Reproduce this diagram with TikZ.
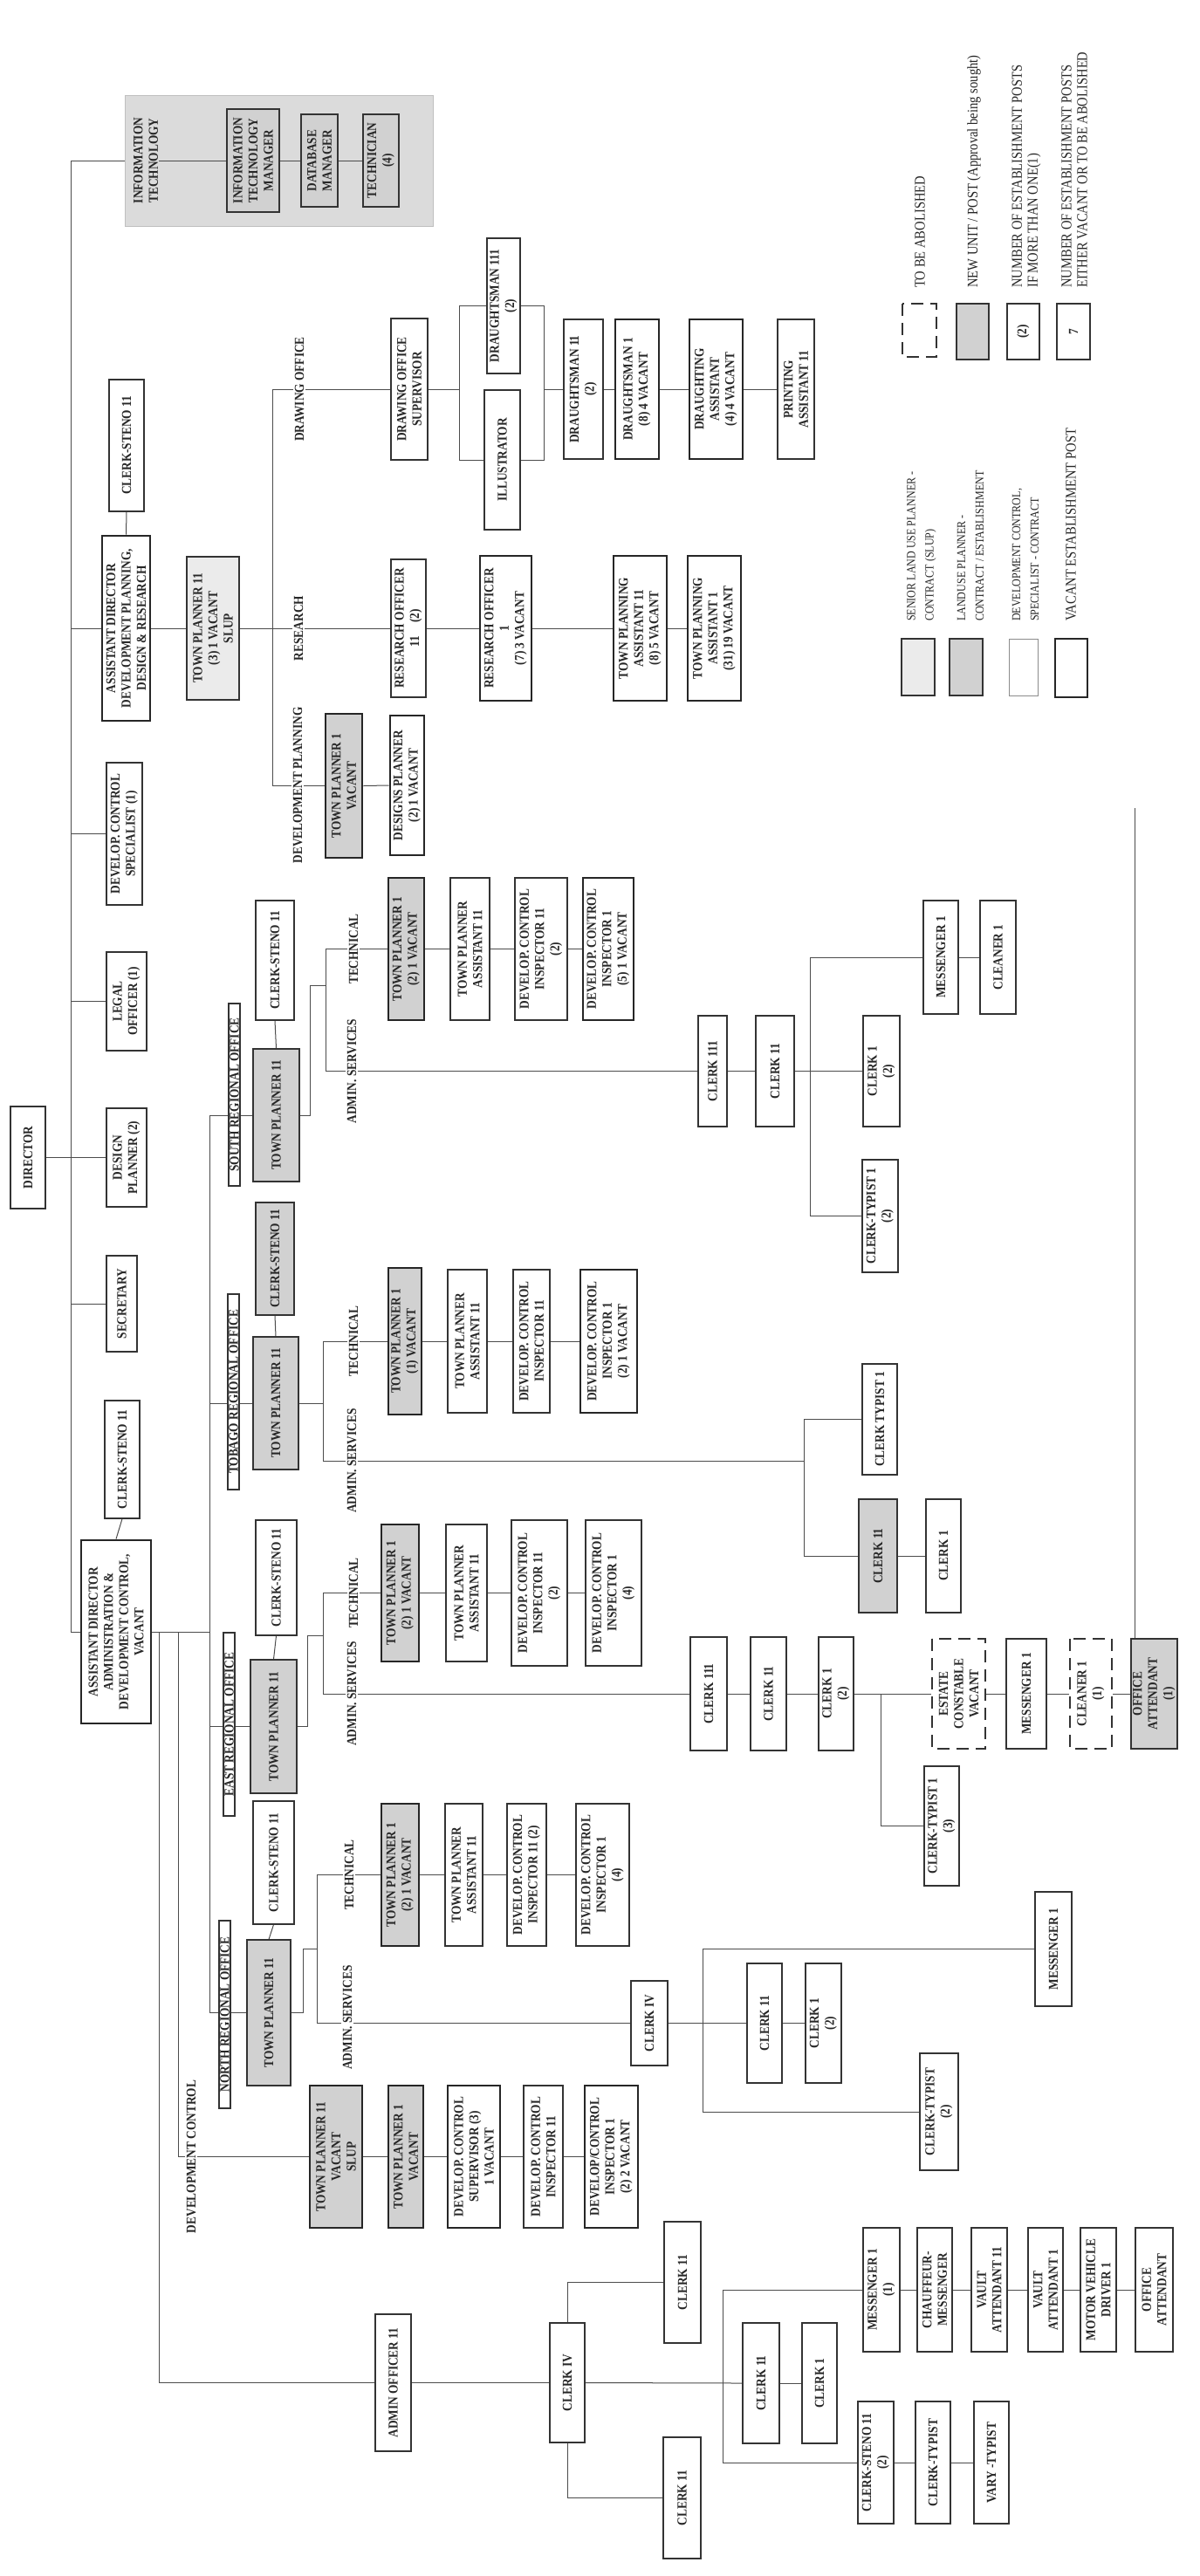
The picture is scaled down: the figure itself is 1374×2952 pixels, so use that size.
\documentclass[tikz,border=0pt]{standalone}
\usepackage{fontspec}
\setmainfont{Liberation Serif}[FakeStretch=0.86]
\usetikzlibrary{calc}
\pgfdeclarelayer{bg}
\pgfsetlayers{bg,main}
\newcommand\bxf{\fontsize{15.5}{17.5}\selectfont\bfseries}
\newcommand\lgf{\fontsize{17}{18}\selectfont}
\newcommand\lgs{\fontsize{14}{21}\selectfont}
\newcommand\orgbox[7][]{\node[box,#1,minimum width={#6-#5},minimum height={#4-#3}] (#2) at ({(#3+#4)/2},{-(#5+#6)/2}) {#7};}
\begin{document}
\begin{tikzpicture}[x=1pt,y=1pt,
  box/.style={draw=black!80,line width=1.1pt,fill=white,rotate=90,align=center,inner sep=0.5pt,font=\bxf,text=black!85},
  vac/.style={line width=2.8pt,draw=black!85},
  shd/.style={fill=black!18},
  lshd/.style={fill=black!8},
  abol/.style={line width=2.8pt,dash pattern=on 14pt off 8pt},
  lab/.style={rotate=90,fill=white,inner sep=1.5pt,font=\bxf,text=black!85},
  ofc/.style={draw=black!80,line width=1.5pt,fill=white,rotate=90,inner sep=1.5pt,font=\bxf,text=black!85},
  lgt/.style={rotate=90,anchor=west,align=left,inner sep=0pt,font=\lgf,text=black!85},
  lgl/.style={rotate=90,anchor=west,align=left,inner sep=0pt,font=\lgs,text=black!85},
  ln/.style={draw=black!70,line width=1pt}]
\useasboundingbox (0,0) rectangle (1374,-2952);
% ---------- information technology
\node[rotate=90,align=center,font=\bxf,inner sep=1pt,text=black!85] (itlab) at (167,-184) {INFORMATION\\TECHNOLOGY};
\orgbox[shd]{itm}{260}{320}{125}{243}{INFORMATION\\TECHNOLOGY\\MANAGER}
\orgbox[shd]{dbm}{345}{387}{131}{237}{DATABASE\\MANAGER}
\orgbox[shd]{tech}{416}{457}{131}{237}{TECHNICIAN\\(4)}
% ---------- top level
\orgbox{cs1}{125}{165}{435}{586}{CLERK-STENO 11}
\orgbox[vac]{addp}{117}{172}{614}{826}{ASSISTANT DIRECTOR\\DEVELOPMENT PLANNING,\\DESIGN \& RESEARCH}
\orgbox[lshd]{tp11s}{214}{274}{638}{802}{TOWN PLANNER 11\\(3) 1 VACANT\\SLUP}
\orgbox{dcs}{122}{163}{874}{1037}{DEVELOP. CONTROL\\SPECIALIST (1)}
\orgbox{legal}{122}{168}{1091}{1204}{LEGAL\\OFFICER (1)}
\orgbox{dsgn}{122}{168}{1270}{1383}{DESIGN\\PLANNER (2)}
\orgbox{dir}{12}{52}{1268}{1385}{DIRECTOR}
\orgbox{sec}{122}{157}{1439}{1549}{SECRETARY}
\orgbox{cs2}{120}{160}{1605}{1740}{CLERK-STENO 11}
\orgbox[vac]{adac}{93}{173}{1765}{1975}{ASSISTANT DIRECTOR\\ADMINISTRATION \&\\DEVELOPMENT CONTROL,\\VACANT}
% ---------- drawing office
\orgbox{dos}{448}{490}{365}{527}{DRAWING OFFICE\\SUPERVISOR}
\orgbox{d111}{558}{596}{273}{428}{DRAUGHTSMAN 111\\(2)}
\orgbox{ill}{555}{596}{447}{607}{ILLUSTRATOR}
\orgbox{d11}{646}{691}{366}{526}{DRAUGHTSMAN 11\\(2)}
\orgbox[vac]{d1}{705}{755}{366}{526}{DRAUGHTSMAN 1\\(8) 4 VACANT}
\orgbox[vac]{da}{790}{851}{366}{526}{DRAUGHTING\\ASSISTANT\\(4) 4 VACANT}
\orgbox{pa}{891}{933}{366}{526}{PRINTING\\ASSISTANT 11}
% ---------- research
\orgbox{ro11}{448}{488}{641}{799}{RESEARCH OFFICER\\11\quad(2)}
\orgbox[vac]{ro1}{550}{609}{637}{803}{RESEARCH OFFICER\\1\\(7) 3 VACANT}
\orgbox[vac]{tpa11}{703}{764}{637}{803}{TOWN PLANNING\\ASSISTANT 11\\(8) 5 VACANT}
\orgbox[vac]{tpa1}{788}{849}{637}{803}{TOWN PLANNING\\ASSISTANT 1\\(31) 19 VACANT}
% ---------- development planning
\orgbox[vac,shd]{tp1dp}{373}{415}{818}{983}{TOWN PLANNER 1\\VACANT}
\orgbox[vac]{dsp}{447}{486}{820}{980}{DESIGNS PLANNER\\(2) 1 VACANT}
% ---------- south
\node[ofc,minimum width=209pt] (srolab) at (268.5,-1254.5) {SOUTH REGIONAL OFFICE};
\orgbox[shd]{tp11S}{290}{343}{1202}{1354}{TOWN PLANNER 11}
\orgbox{csS}{293}{337}{1032}{1169}{CLERK-STENO 11}
\orgbox[vac,shd]{tp1S}{445}{486}{1006}{1169}{TOWN PLANNER 1\\(2) 1 VACANT}
\orgbox{tpaS}{516}{561}{1006}{1169}{TOWN PLANNER\\ASSISTANT 11}
\orgbox{dci11S}{590}{650}{1006}{1169}{DEVELOP. CONTROL\\INSPECTOR 11\\(2)}
\orgbox[vac]{dci1S}{668}{726}{1006}{1169}{DEVELOP. CONTROL\\INSPECTOR 1\\(5) 1 VACANT}
\orgbox{c3S}{800}{833}{1164}{1291}{CLERK 111}
\orgbox{c2S}{866}{910}{1164}{1291}{CLERK 11}
\orgbox{c1S}{989}{1031}{1164}{1291}{CLERK 1\\(2)}
\orgbox{ctS}{988}{1029}{1329}{1458}{CLERK-TYPIST 1\\(2)}
\orgbox{msS}{1058}{1098}{1032}{1162}{MESSENGER 1}
\orgbox{clS}{1123}{1164}{1032}{1162}{CLEANER 1}
% ---------- tobago
\node[ofc,minimum width=224pt] (trolab) at (267.5,-1595) {TOBAGO REGIONAL OFFICE};
\orgbox[shd]{tp11T}{290}{342}{1532}{1684}{TOWN PLANNER 11}
\orgbox[shd]{csT}{293}{337}{1378}{1507}{CLERK-STENO 11}
\orgbox[vac,shd]{tp1T}{445}{483}{1453}{1621}{TOWN PLANNER 1\\(1) VACANT}
\orgbox{tpaT}{513}{558}{1455}{1619}{TOWN PLANNER\\ASSISTANT 11}
\orgbox{dci11T}{588}{630}{1455}{1619}{DEVELOP. CONTROL\\INSPECTOR 11}
\orgbox[vac]{dci1T}{665}{730}{1455}{1619}{DEVELOP. CONTROL\\INSPECTOR 1\\(2) 1 VACANT}
\orgbox{ctT}{988}{1028}{1563}{1690}{CLERK TYPIST 1}
\orgbox[shd]{c2T}{984}{1028}{1718}{1848}{CLERK 11}
\orgbox{c1T}{1061}{1101}{1718}{1848}{CLERK 1}
% ---------- east
\node[ofc,minimum width=210pt] (erolab) at (262.5,-1976) {EAST REGIONAL OFFICE};
\orgbox[shd]{tp11E}{287}{340}{1902}{2055}{TOWN PLANNER 11}
\orgbox{csE}{293}{340}{1742}{1874}{CLERK-STENO 11}
\orgbox[vac,shd]{tp1E}{437}{480}{1747}{1904}{TOWN PLANNER 1\\(2) 1 VACANT}
\orgbox{tpaE}{511}{558}{1747}{1904}{TOWN PLANNER\\ASSISTANT 11}
\orgbox{dci11E}{586}{650}{1742}{1909}{DEVELOP. CONTROL\\INSPECTOR 11\\(2)}
\orgbox{dci1E}{671}{735}{1742}{1909}{DEVELOP. CONTROL\\INSPECTOR 1\\(4)}
\orgbox{c3E}{791}{833}{1876}{2006}{CLERK 111}
\orgbox{c2E}{860}{901}{1876}{2006}{CLERK 11}
\orgbox{c1E}{938}{978}{1876}{2006}{CLERK 1\\(2)}
\orgbox{ctE}{1059}{1099}{2024}{2161}{CLERK-TYPIST 1\\(3)}
\orgbox[abol]{ecE}{1068}{1129}{1878}{2004}{ESTATE\\CONSTABLE\\VACANT}
\orgbox{msE}{1153}{1199}{1878}{2004}{MESSENGER 1}
\orgbox[abol]{clE}{1226}{1274}{1878}{2004}{CLEANER 1\\(1)}
\orgbox[shd]{oaE}{1296}{1349}{1878}{2004}{OFFICE\\ATTENDANT\\(1)}
% ---------- north
\node[ofc,minimum width=215pt] (nrolab) at (257.5,-2308.5) {NORTH REGIONAL OFFICE};
\orgbox[shd]{tp11N}{283}{333}{2223}{2390}{TOWN PLANNER 11}
\orgbox{csN}{290}{337}{2064}{2205}{CLERK-STENO 11}
\orgbox[vac,shd]{tp1N}{437}{480}{2067}{2230}{TOWN PLANNER 1\\(2) 1 VACANT}
\orgbox{tpaN}{510}{553}{2067}{2230}{TOWN PLANNER\\ASSISTANT 11}
\orgbox{dci11N}{581}{626}{2067}{2230}{DEVELOP. CONTROL\\INSPECTOR 11 (2)}
\orgbox{dci1N}{660}{721}{2067}{2230}{DEVELOP. CONTROL\\INSPECTOR 1\\(4)}
\orgbox{c4N}{723}{765}{2270}{2367}{CLERK IV}
\orgbox{c2N}{856}{896}{2250}{2387}{CLERK 11}
\orgbox{c1N}{923}{964}{2250}{2387}{CLERK 1\\(2)}
\orgbox{msN}{1186}{1228}{2168}{2299}{MESSENGER 1}
\orgbox{ctN}{1054}{1098}{2353}{2487}{CLERK-TYPIST\\(2)}
% ---------- development control
\orgbox[vac,shd]{tp11D}{355}{415}{2390}{2553}{TOWN PLANNER 11\\VACANT\\SLUP}
\orgbox[vac,shd]{tp1D}{445}{485}{2390}{2553}{TOWN PLANNER 1\\VACANT}
\orgbox[vac]{dcsup}{513}{573}{2390}{2553}{DEVELOP. CONTROL\\SUPERVISOR (3)\\1 VACANT}
\orgbox{dci11D}{600}{645}{2390}{2553}{DEVELOP. CONTROL\\INSPECTOR 11}
\orgbox[vac]{dci1D}{670}{731}{2390}{2553}{DEVELOP/CONTROL\\INSPECTOR 1\\(2) 2 VACANT}
% ---------- administration
\orgbox{ao}{430}{471}{2652}{2809}{ADMIN OFFICER 11}
\orgbox{c4A}{630}{670}{2662}{2799}{CLERK IV}
\orgbox{c2Aa}{761}{803}{2546}{2685}{CLERK 11}
\orgbox{c2Ab}{760}{803}{2793}{2932}{CLERK 11}
\orgbox{c2Ac}{851}{893}{2662}{2800}{CLERK 11}
\orgbox{c1A}{919}{959}{2662}{2800}{CLERK 1}
\orgbox{msA}{989}{1031}{2553}{2695}{MESSENGER 1\\(1)}
\orgbox{chA}{1051}{1091}{2553}{2695}{CHAUFFEUR-\\MESSENGER}
\orgbox{vaB}{1113}{1154}{2553}{2695}{VAULT\\ATTENDANT 11}
\orgbox{vaA}{1178}{1218}{2553}{2695}{VAULT\\ATTENDANT 1}
\orgbox{mvd}{1238}{1279}{2553}{2695}{MOTOR VEHICLE\\DRIVER 1}
\orgbox{oaA}{1301}{1344}{2553}{2695}{OFFICE\\ATTENDANT}
\orgbox{csA}{983}{1024}{2752}{2892}{CLERK-STENO 11\\(2)}
\orgbox{ctA}{1049}{1089}{2752}{2892}{CLERK-TYPIST}
\orgbox{vtA}{1116}{1156}{2752}{2892}{VARY -TYPIST}
% ---------- branch labels
\node[lab] (dolab) at (343,-446) {DRAWING OFFICE};
\node[lab] (rslab) at (342,-720) {RESEARCH};
\node[lab] (dplab) at (341,-900) {DEVELOPMENT PLANNING};
\node[lab] (techS) at (405,-1087.5) {TECHNICAL};
\node[lab] (admS) at (403,-1227.5) {ADMIN. SERVICES};
\node[lab] (techT) at (405,-1537) {TECHNICAL};
\node[lab] (admT) at (403,-1674) {ADMIN. SERVICES};
\node[lab] (techE) at (405,-1825.5) {TECHNICAL};
\node[lab] (admE) at (403,-1941) {ADMIN. SERVICES};
\node[lab] (techN) at (400,-2148.5) {TECHNICAL};
\node[lab] (admN) at (398,-2312) {ADMIN. SERVICES};
\node[lab] (dclab) at (219,-2471.5) {DEVELOPMENT CONTROL};
% ---------- legend
\orgbox[abol]{lg1}{1034}{1073}{348}{409}{}
\orgbox[shd]{lg2}{1096}{1133}{348}{412}{}
\orgbox{lg3}{1154}{1191}{348}{412}{(2)}
\orgbox{lg4}{1211}{1249}{348}{412}{7}
\node[lgt] (lt1) at (1054,-330) {TO BE ABOLISHED};
\node[lgt] (lt2) at (1116,-330) {NEW UNIT / POST (Approval being sought)};
\node[lgt] (lt3) at (1176,-330) {NUMBER OF ESTABLISHMENT POSTS\\IF MORE THAN ONE(1)};
\node[lgt] (lt4) at (1231,-330) {NUMBER OF ESTABLISHMENT POSTS\\EITHER VACANT OR TO BE ABOLISHED};
\orgbox[lshd]{ls1}{1033}{1071}{732}{797}{}
\orgbox[shd]{ls2}{1088}{1126}{732}{797}{}
\orgbox[draw=black!45,line width=0.8pt]{ls3}{1156}{1189}{732}{797}{}
\orgbox[vac]{ls4}{1209}{1246}{732}{799}{}
\node[lgl] (lx1) at (1056,-712) {SENIOR LAND USE PLANNER -\\CONTRACT (SLUP)};
\node[lgl] (lx2) at (1112,-712) {LANDUSE PLANNER -\\CONTRACT / ESTABLISHMENT};
\node[lgl] (lx3) at (1175,-712) {DEVELOPMENT CONTROL,\\SPECIALIST - CONTRACT};
\node[lgt] (lx4) at (1227,-712) {VACANT ESTABLISHMENT POST};
% ---------- connectors
\begin{pgfonlayer}{bg}
\fill[white] (0,0) rectangle (1374,-2952);
\node[draw=black!25,fill=black!14,minimum width=353pt,minimum height=150pt,inner sep=0pt] (itreg) at (319.5,-184) {};
\coordinate (mb) at (81,0);
\coordinate (rb) at (240,0);
\coordinate (dcv) at (204,0);
\coordinate (aov) at (182,0);
\draw[ln] (itreg.west) -| (adac.north -| mb) -- (adac.north);
\draw[ln] (itlab.south) -- (itm.north);
\draw[ln] (itm.south) -- (dbm.north);
\draw[ln] (dbm.south) -- (tech.north);
\draw[ln] (addp.north) -- (addp.north -| mb);
\draw[ln] (dcs.north) -- (dcs.north -| mb);
\draw[ln] (legal.north) -- (legal.north -| mb);
\draw[ln] (sec.north) -- (sec.north -| mb);
\draw[ln] (dir.south) -- (dsgn.north);
\draw[ln] (cs1.west) -- (addp.east);
\draw[ln] (cs2.west) -- (adac.east);
% development planning / research / drawing
\coordinate (dpA) at (312,-446);
\coordinate (dpB) at (312,-900.5);
\draw[ln] (addp.south) -- (tp11s.north);
\draw[ln] (tp11s.south) -- (ro11.north);
\draw[ln] (dpA) -- (dpB);
\draw[ln] (dpA) -- (dos.north);
\draw[ln] (dpB) -- (tp1dp.north);
\draw[ln] (tp1dp.south) -- (dsp.north);
\draw[ln] (ro11.south) -- (ro1.north);
\draw[ln] (ro1.south) -- (tpa11.north);
\draw[ln] (tpa11.south) -- (tpa1.north);
\coordinate (lpA) at (526,-350.5);
\coordinate (lpB) at (623,-527);
\draw[ln] (lpA) rectangle (lpB);
\draw[ln] (dos.south) -- (dos.south -| lpA);
\draw[ln] (d11.north -| lpB) -- (d11.north);
\draw[ln] (d11.south) -- (d1.north);
\draw[ln] (d1.south) -- (da.north);
\draw[ln] (da.south) -- (pa.north);
% regional bus
\draw[ln] (adac.south) -- (adac.south -| rb);
\draw[ln] (tp11S.north -| rb) -- (tp11N.north -| rb);
\draw[ln] (tp11S.north -| rb) -- (tp11S.north);
\draw[ln] (tp11T.north -| rb) -- (tp11T.north);
\draw[ln] (tp11E.north -| rb) -- (tp11E.north);
\draw[ln] (tp11N.north -| rb) -- (tp11N.north);
\draw[ln] (adac.south -| dcv) |- (tp11D.north);
\draw[ln] (adac.south -| aov) |- (ao.north);
% south
\coordinate (sS) at (355,-1129);
\coordinate (vS) at (373,0);
\coordinate (bS) at (928,0);
\draw[ln] (csS.west) -- (tp11S.east);
\draw[ln] (tp11S.south) -| (sS) -- (sS -| vS);
\draw[ln] (tp1S.north) -| (c3S.north -| vS) -- (c3S.north);
\draw[ln] (tp1S.south) -- (tpaS.north);
\draw[ln] (tpaS.south) -- (dci11S.north);
\draw[ln] (dci11S.south) -- (dci1S.north);
\draw[ln] (c3S.south) -- (c2S.north);
\draw[ln] (c2S.south) -- (c1S.north);
\draw[ln] (msS.north) -| (ctS.north -| bS) -- (ctS.north);
\draw[ln] (msS.south) -- (clS.north);
% tobago
\coordinate (vT) at (370,0);
\coordinate (aT) at (370,-1674);
\coordinate (bT) at (921,0);
\draw[ln] (csT.west) -- (tp11T.east);
\draw[ln] (tp11T.south) -- (tp11T.south -| vT);
\draw[ln] (tp1T.north) -| (aT) -- (aT -| bT);
\draw[ln] (tp1T.south) -- (tpaT.north);
\draw[ln] (tpaT.south) -- (dci11T.north);
\draw[ln] (dci11T.south) -- (dci1T.north);
\draw[ln] (ctT.north) -| (c2T.north -| bT) -- (c2T.north);
\draw[ln] (c2T.south) -- (c1T.north);
% east
\coordinate (sE) at (352,-1874);
\coordinate (vE) at (370,0);
\coordinate (bE) at (1009,-1941);
\coordinate (oaTop) at (1300,-926);
\draw[ln] (csE.west) -- (tp11E.east);
\draw[ln] (tp11E.south) -| (sE) -- (sE -| vE);
\draw[ln] (tp1E.north) -| (c3E.north -| vE) -- (c3E.north);
\draw[ln] (tp1E.south) -- (tpaE.north);
\draw[ln] (tpaE.south) -- (dci11E.north);
\draw[ln] (dci11E.south) -- (dci1E.north);
\draw[ln] (c3E.south) -- (c2E.north);
\draw[ln] (c2E.south) -- (c1E.north);
\draw[ln] (c1E.south) -- (ecE.north);
\draw[ln] (bE) |- (ctE.north);
\draw[ln] (ecE.south) -- (msE.north);
\draw[ln] (msE.south) -- (clE.north);
\draw[ln] (clE.south) -- (oaE.north);
\draw[ln] (oaTop) -- (oaTop |- oaE.east);
% north
\coordinate (sN) at (347,-2233);
\coordinate (vN) at (363,0);
\coordinate (bN) at (805,0);
\draw[ln] (csN.west) -- (tp11N.east);
\draw[ln] (tp11N.south) -| (sN) -- (sN -| vN);
\draw[ln] (tp1N.north) -| (c4N.north -| vN) -- (c4N.north);
\draw[ln] (tp1N.south) -- (tpaN.north);
\draw[ln] (tpaN.south) -- (dci11N.north);
\draw[ln] (dci11N.south) -- (dci1N.north);
\draw[ln] (c4N.south) -- (c2N.north);
\draw[ln] (c2N.south) -- (c1N.north);
\draw[ln] (msN.north) -| (ctN.north -| bN) -- (ctN.north);
% development control
\draw[ln] (tp11D.south) -- (tp1D.north);
\draw[ln] (tp1D.south) -- (dcsup.north);
\draw[ln] (dcsup.south) -- (dci11D.north);
\draw[ln] (dci11D.south) -- (dci1D.north);
% administration
\coordinate (bA) at (828,0);
\draw[ln] (ao.south) -- (c4A.north);
\draw[ln] (c4A.east) |- (c2Aa.north);
\draw[ln] (c4A.west) |- (c2Ab.north);
\draw[ln] (c4A.south) -- (c2Ac.north);
\draw[ln] (c2Ac.south) -- (c1A.north);
\draw[ln] (msA.north) -| (csA.north -| bA) -- (csA.north);
\draw[ln] (msA.south) -- (chA.north);
\draw[ln] (chA.south) -- (vaB.north);
\draw[ln] (vaB.south) -- (vaA.north);
\draw[ln] (vaA.south) -- (mvd.north);
\draw[ln] (mvd.south) -- (oaA.north);
\draw[ln] (csA.south) -- (ctA.north);
\draw[ln] (ctA.south) -- (vtA.north);
\end{pgfonlayer}
\end{tikzpicture}
\end{document}
